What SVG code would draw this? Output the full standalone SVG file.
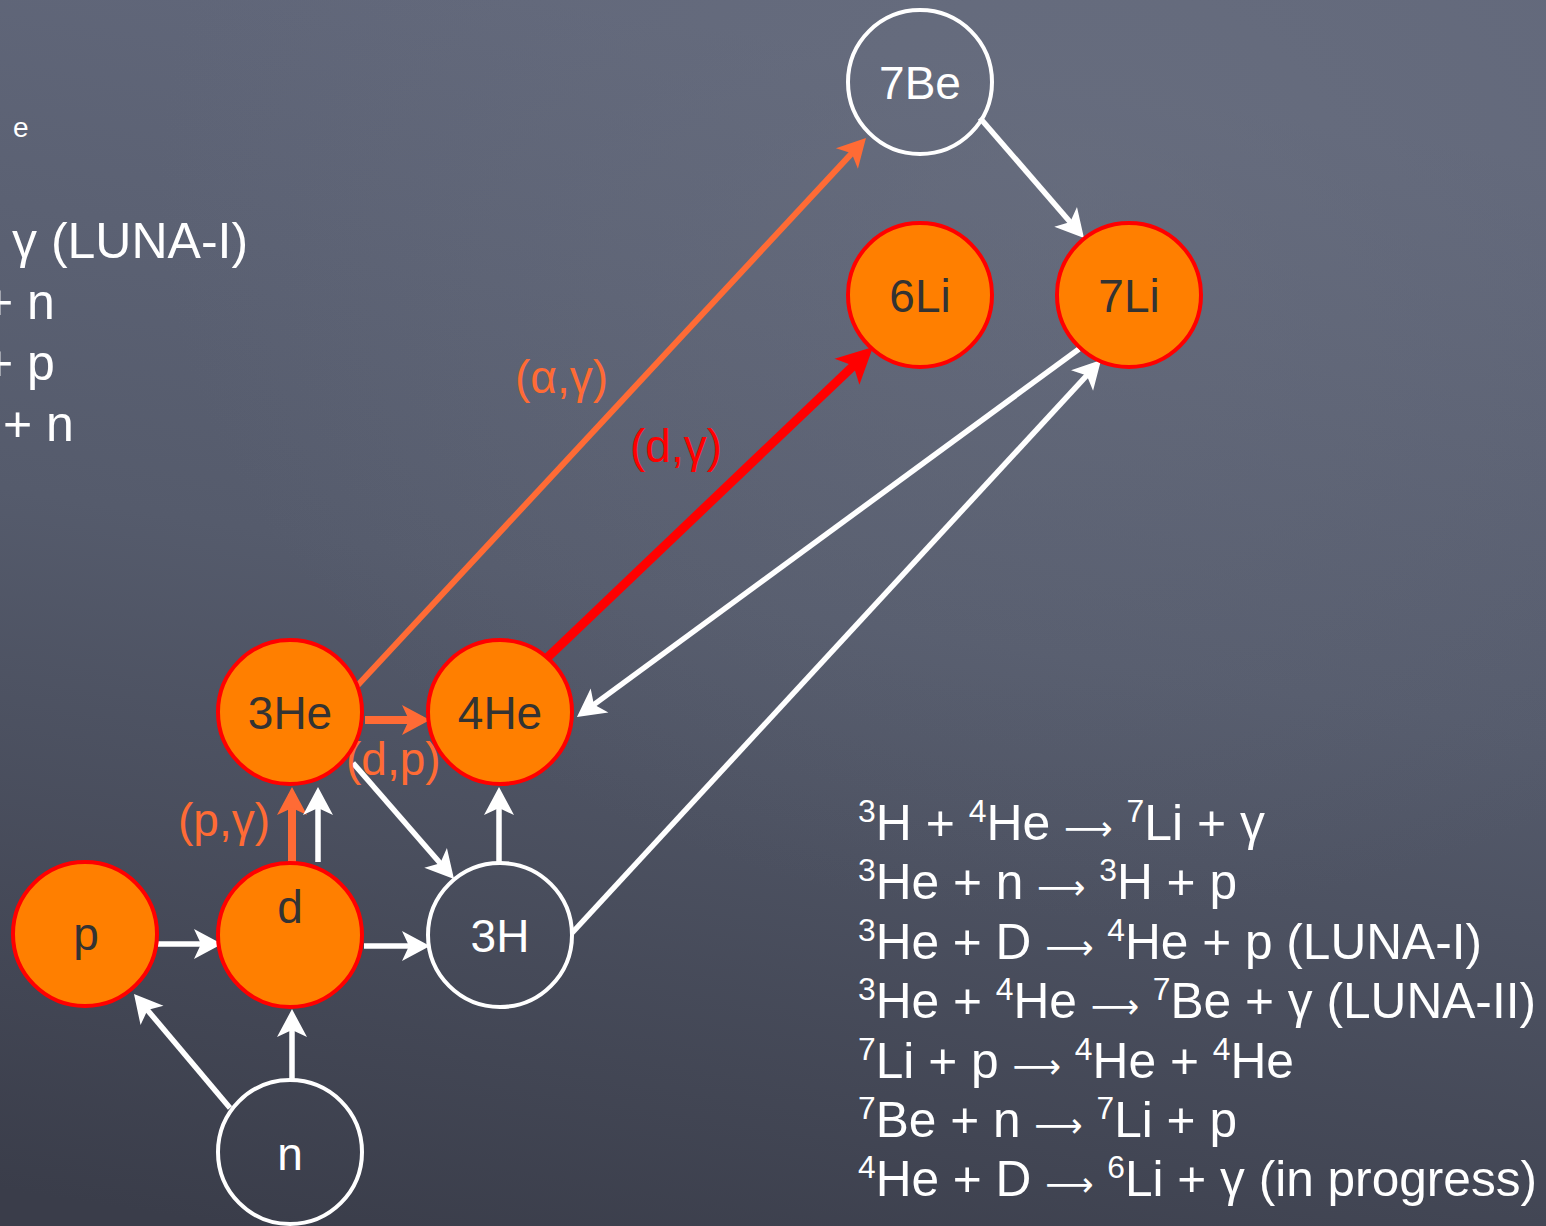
<svg xmlns="http://www.w3.org/2000/svg" width="1546" height="1226" viewBox="0 0 1546 1226">
<defs>
<linearGradient id="bg" x1="0.35" y1="0" x2="0.15" y2="1">
<stop offset="0" stop-color="#61677a"/>
<stop offset="0.45" stop-color="#555b6c"/>
<stop offset="1" stop-color="#3a3d4a"/>
</linearGradient>
<radialGradient id="glow" cx="0.7" cy="0.15" r="0.6">
<stop offset="0" stop-color="#6c7282" stop-opacity="0.5"/>
<stop offset="1" stop-color="#6c7282" stop-opacity="0"/>
</radialGradient>
<marker id="mw" viewBox="-24 -16 32 32" refX="0" refY="0" markerWidth="32" markerHeight="32" markerUnits="userSpaceOnUse" orient="auto">
<path d="M7,0 L-21,-15 L-14,0 L-21,15 Z" fill="#ffffff"/>
</marker>
<marker id="mo" viewBox="-24 -18 32 36" refX="0" refY="0" markerWidth="32" markerHeight="36" markerUnits="userSpaceOnUse" orient="auto">
<path d="M7,0 L-21,-15 L-14,0 L-21,15 Z" fill="#ff6b35"/>
</marker>
<marker id="mr" viewBox="-30 -20 42 40" refX="0" refY="0" markerWidth="42" markerHeight="40" markerUnits="userSpaceOnUse" orient="auto">
<path d="M10,0 L-26,-18 L-17,0 L-26,18 Z" fill="#ff0000"/>
</marker>
</defs>
<style>
.t{font-family:"Liberation Sans",Arial,Helvetica,sans-serif;}
.lbl{font-size:46px;text-anchor:middle;}
.dk{fill:#333333;}
.wt{fill:#ffffff;}
.on{fill:#ff7f00;stroke:#ff0000;stroke-width:4;}
.wn{fill:none;stroke:#ffffff;stroke-width:4;}
.cw{stroke:#ffffff;stroke-width:5.5;fill:none;marker-end:url(#mw);}
.co{stroke:#ff6b35;stroke-width:6;fill:none;marker-end:url(#mo);}
.cot{stroke:#ff6b35;stroke-width:8;fill:none;marker-end:url(#mo);}
.cr{stroke:#ff0000;stroke-width:9;fill:none;marker-end:url(#mr);}
.rx{font-size:50px;fill:#ffffff;}
.sup{font-size:32px;}
.ar{font-family:"DejaVu Sans",sans-serif;font-size:34px;}
.elab{font-size:46px;}
</style>
<rect width="1546" height="1226" fill="url(#bg)"/>
<rect width="1546" height="1226" fill="url(#glow)"/>

<g id="left-text" class="t">
<text x="13" y="137" font-size="28" fill="#ffffff">e</text>
<text x="12" y="258" class="rx">γ (LUNA-I)</text>
<text x="-16" y="319" class="rx">+ n</text>
<text x="-16" y="380" class="rx">+ p</text>
<text x="3" y="441" class="rx">+ n</text>
</g>

<g id="connectors">
<line class="co" x1="357" y1="686" x2="861.2" y2="143.1"/>
<line class="cr" x1="548" y1="657" x2="865.8" y2="353.9"/>
<line class="cw" x1="1079" y1="349" x2="582.6" y2="712.9"/>
<line class="cw" x1="572" y1="933" x2="1096.3" y2="365.1"/>
<line class="cw" x1="980" y1="118" x2="1079.4" y2="232.7"/>
<line class="cot" x1="365" y1="720" x2="423" y2="720"/>
<line class="cot" x1="292" y1="862" x2="292" y2="794"/>
<line class="cw" x1="318" y1="862" x2="318" y2="794"/>
<line class="cw" x1="353" y1="763" x2="449.4" y2="873.7"/>
<line class="cw" x1="499" y1="862" x2="499" y2="794"/>
<line class="cw" x1="158" y1="944" x2="215" y2="944"/>
<line class="cw" x1="364" y1="946" x2="423" y2="946"/>
<line class="cw" x1="292" y1="1080" x2="292" y2="1016"/>
<line class="cw" x1="230" y1="1108" x2="138.5" y2="999.4"/>
</g>

<g id="edge-labels" class="t">
<text x="515" y="393" class="elab" fill="#ff6b35">(α,γ)</text>
<text x="630" y="462" class="elab" fill="#ff0000">(d,γ)</text>
<text x="346" y="775" class="elab" fill="#ff6b35">(d,p)</text>
<text x="178" y="836" class="elab" fill="#ff6b35">(p,γ)</text>
</g>

<g id="node-7Be"><circle class="wn" cx="920" cy="82" r="72"/><text class="t lbl wt" x="920" y="99">7Be</text></g>
<g id="node-6Li"><circle class="on" cx="920" cy="295" r="72"/><text class="t lbl dk" x="920" y="312">6Li</text></g>
<g id="node-7Li"><circle class="on" cx="1129" cy="295" r="72"/><text class="t lbl dk" x="1129" y="312">7Li</text></g>
<g id="node-3He"><circle class="on" cx="290" cy="712" r="72"/><text class="t lbl dk" x="290" y="729">3He</text></g>
<g id="node-4He"><circle class="on" cx="500" cy="712" r="72"/><text class="t lbl dk" x="500" y="729">4He</text></g>
<g id="node-p"><circle class="on" cx="85" cy="934" r="72"/><text class="t lbl dk" x="86" y="950">p</text></g>
<g id="node-d"><circle class="on" cx="290" cy="935" r="72"/><text class="t lbl dk" x="290" y="923">d</text></g>
<g id="node-3H"><circle class="wn" cx="500" cy="935" r="72"/><text class="t lbl wt" x="500" y="952">3H</text></g>
<g id="node-n"><circle class="wn" cx="290" cy="1152" r="72"/><text class="t lbl wt" x="290" y="1170">n</text></g>

<g id="reactions" class="t">
<text class="rx" x="858" y="840" textLength="407" lengthAdjust="spacingAndGlyphs"><tspan class="sup" dy="-18">3</tspan><tspan dy="18">H + </tspan><tspan class="sup" dy="-18">4</tspan><tspan dy="18">He </tspan><tspan class="ar">⟶</tspan><tspan> </tspan><tspan class="sup" dy="-18">7</tspan><tspan dy="18">Li + γ</tspan></text>
<text class="rx" x="858" y="899" textLength="379" lengthAdjust="spacingAndGlyphs"><tspan class="sup" dy="-18">3</tspan><tspan dy="18">He + n </tspan><tspan class="ar">⟶</tspan><tspan> </tspan><tspan class="sup" dy="-18">3</tspan><tspan dy="18">H + p</tspan></text>
<text class="rx" x="858" y="959" textLength="624" lengthAdjust="spacingAndGlyphs"><tspan class="sup" dy="-18">3</tspan><tspan dy="18">He + D </tspan><tspan class="ar">⟶</tspan><tspan> </tspan><tspan class="sup" dy="-18">4</tspan><tspan dy="18">He + p (LUNA-I)</tspan></text>
<text class="rx" x="858" y="1018" textLength="678" lengthAdjust="spacingAndGlyphs"><tspan class="sup" dy="-18">3</tspan><tspan dy="18">He + </tspan><tspan class="sup" dy="-18">4</tspan><tspan dy="18">He </tspan><tspan class="ar">⟶</tspan><tspan> </tspan><tspan class="sup" dy="-18">7</tspan><tspan dy="18">Be + γ (LUNA-II)</tspan></text>
<text class="rx" x="858" y="1078" textLength="436" lengthAdjust="spacingAndGlyphs"><tspan class="sup" dy="-18">7</tspan><tspan dy="18">Li + p </tspan><tspan class="ar">⟶</tspan><tspan> </tspan><tspan class="sup" dy="-18">4</tspan><tspan dy="18">He + </tspan><tspan class="sup" dy="-18">4</tspan><tspan dy="18">He</tspan></text>
<text class="rx" x="858" y="1137" textLength="379" lengthAdjust="spacingAndGlyphs"><tspan class="sup" dy="-18">7</tspan><tspan dy="18">Be + n </tspan><tspan class="ar">⟶</tspan><tspan> </tspan><tspan class="sup" dy="-18">7</tspan><tspan dy="18">Li + p</tspan></text>
<text class="rx" x="858" y="1196" textLength="679" lengthAdjust="spacingAndGlyphs"><tspan class="sup" dy="-18">4</tspan><tspan dy="18">He + D </tspan><tspan class="ar">⟶</tspan><tspan> </tspan><tspan class="sup" dy="-18">6</tspan><tspan dy="18">Li + γ (in progress)</tspan></text>
</g>
</svg>
